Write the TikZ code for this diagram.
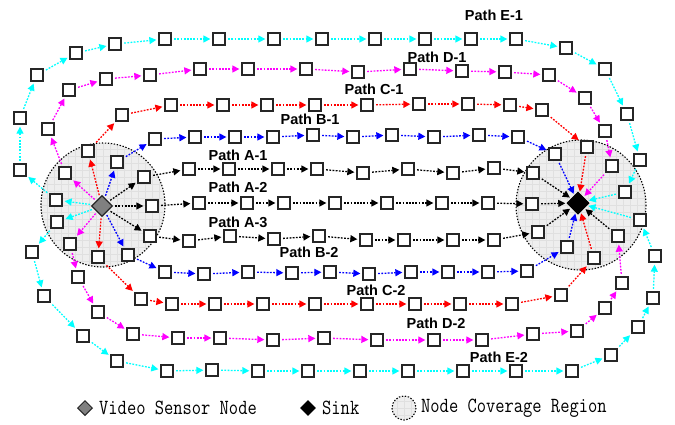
\documentclass[tikz,border=0pt]{standalone}
\usepackage{fontspec}
\usepackage{graphicx}
\usetikzlibrary{arrows.meta,shapes.geometric}
\newfontfamily\lblfont{Liberation Sans}
\definecolor{pcyan}{RGB}{0,255,255}
\definecolor{pmag}{RGB}{255,0,255}
\definecolor{pred}{RGB}{255,0,0}
\definecolor{pblue}{RGB}{0,0,255}
\newcommand\covreg[3]{%
  \begin{scope}
    \clip (#1,#2) circle[radius=#3];
    \fill[gray!13] ({#1-#3},{#2-#3}) rectangle ({#1+#3},{#2+#3});
    \foreach \g in {-10,...,10} {
      \draw[gray!24, line width=0.4pt] ({#1+\g*7},{#2-#3}) -- ({#1+\g*7},{#2+#3});
      \draw[gray!24, line width=0.4pt] ({#1-#3},{#2+\g*7}) -- ({#1+#3},{#2+\g*7});
    }
  \end{scope}
  \draw[black, line width=1.1pt, dash pattern=on 1.4pt off 1.6pt] (#1,#2) circle[radius=#3];
}
% #1 prefix, #2 colour, #3 last index, #4 colour of last arrow, #5 list
\newcommand\chainpath[5]{%
  \foreach \px/\py [count=\k, remember=\k as \kp (initially 0)] in {#5} {
    \node[sq] (#1\k) at (\px,\py) {};
    \ifnum\k>1 \draw[arr,#2] (#1\kp) -- (#1\k); \fi
  }
  \draw[arr,#2] (S) -- (#11);
  \draw[arr,#4] (#1#3) -- (K);
}
\newcommand\tallt[1]{\scalebox{1}[1.2]{#1}}
\begin{document}
\begin{tikzpicture}[x=1pt,y=-1pt,
  sq/.style={draw=black!85, fill=white, line width=1.8pt, minimum size=12.5pt, inner sep=0pt},
  arr/.style={line width=1.3pt, dash pattern=on 1.8pt off 1.4pt,
    -{Triangle[length=7pt,width=7pt]}, shorten >=1.5pt, shorten <=2pt},
  lbl/.style={font=\lblfont\bfseries\fontsize{14.5}{14.5}\selectfont, inner sep=0pt},
  leg/.style={font=\ttfamily\fontsize{18}{18}\selectfont, inner sep=0pt, anchor=west}]
\useasboundingbox (0,0) rectangle (675,424);
\fill[white] (0,0) rectangle (675,424);

\covreg{103}{205}{62}
\covreg{581}{205}{65}

\node[diamond, draw=black!85, fill=gray, line width=1.3pt, minimum size=21pt, inner sep=0pt] (S) at (102,206) {};
\node[diamond, draw=black, fill=black, line width=1pt, minimum size=22pt, inner sep=0pt] (K) at (578,203) {};

\chainpath{ea}{pcyan}{19}{pcyan}{56/200, 20/170, 20/118, 37/75, 76/53, 115/44, 165/39, 219/39, 274/39, 322/39, 375/39, 425/39, 471/39, 516/39, 566/48, 605/69, 627/114, 640/160, 625/192}
\chainpath{da}{pmag}{16}{pmag}{65/173, 48/129, 69/90, 106/79, 150/75, 200/69, 248/69, 306/69, 358/72, 410/69, 462/71, 505/72, 549/75, 585/98, 605/131, 612/166}
\chainpath{ca}{pred}{12}{pred}{88/151, 122/115, 171/105, 223/105, 267/105, 315/105, 367/105, 419/104, 468/104, 510/105, 542/110, 587/147}
\chainpath{ba}{pblue}{12}{pblue}{117/162, 155/139, 195/137, 235/137, 273/137, 313/135, 353/137, 392/135, 434/137, 479/135, 518/137, 555/154}
\chainpath{aa}{black}{10}{black}{144/177, 189/169, 229/169, 278/169, 317/169, 363/173, 408/169, 453/173, 494/168, 533/173}
\chainpath{ab}{black}{9}{black}{152/206, 199/203, 247/203, 284/203, 335/203, 387/203, 442/203, 488/203, 532/204}
\chainpath{ac}{black}{10}{black}{150/236, 189/241, 230/236, 274/239, 319/236, 366/240, 404/240, 453/240, 494/240, 538/232}
\chainpath{bb}{pblue}{12}{pblue}{128/255, 165/272, 204/274, 248/272, 292/273, 330/272, 369/274, 411/272, 448/272, 488/272, 527/271, 567/247}
\chainpath{cb}{pred}{12}{pred}{98/257, 141/299, 172/304, 215/304, 263/304, 315/304, 367/304, 415/304, 460/304, 512/304, 561/295, 594/258}
\chainpath{db}{pmag}{16}{black}{70/244, 78/277, 98/312, 133/334, 178/338, 220/338, 273/340, 324/338, 377/340, 434/340, 482/340, 533/334, 577/331, 605/308, 622/283, 618/236}
\chainpath{eb}{pcyan}{19}{pcyan}{57/222, 32/252, 44/296, 83/336, 117/361, 167/371, 212/370, 258/371, 308/371, 360/371, 408/371, 463/371, 516/371, 572/371, 611/355, 638/327, 653/298, 655/256, 640/220}

\node[lbl] (le1) at (494,15) {Path E-1};
\node[lbl] (ld1) at (437,57) {Path D-1};
\node[lbl] (lc1) at (374,89) {Path C-1};
\node[lbl] (lb1) at (310,119) {Path B-1};
\node[lbl] (la1) at (238,155) {Path A-1};
\node[lbl] (la2) at (238,187) {Path A-2};
\node[lbl] (la3) at (238,222) {Path A-3};
\node[lbl] (lb2) at (309,252) {Path B-2};
\node[lbl] (lc2) at (376,290) {Path C-2};
\node[lbl] (ld2) at (436,323) {Path D-2};
\node[lbl] (le2) at (499,357) {Path E-2};

% legend
\node[diamond, draw=black!85, fill=gray, line width=1pt, minimum size=15pt, inner sep=0pt] (gs) at (85,408) {};
\node[leg] (gst) at (99,408) {\tallt{Video Sensor Node}};
\node[diamond, fill=black, minimum size=16pt, inner sep=0pt] (gk) at (308,408) {};
\node[leg] (gkt) at (322,408) {\tallt{Sink}};
\covreg{404}{408}{12}
\node[leg] (gct) at (421,408) {\tallt{Node Coverage Region}};
\end{tikzpicture}
\end{document}
